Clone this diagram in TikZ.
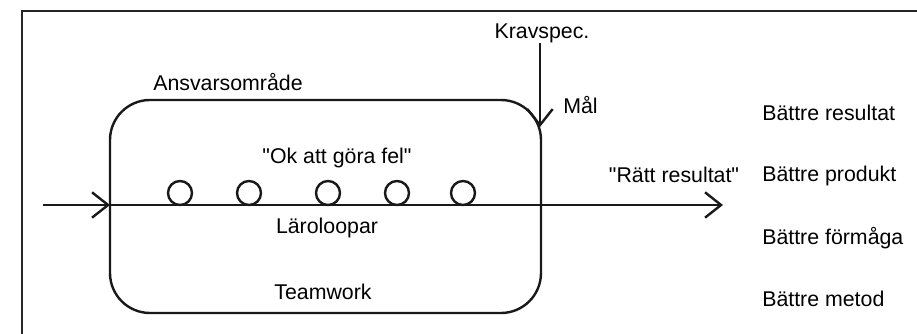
\documentclass[tikz,border=0pt]{standalone}
\usepackage{fontspec}
\setmainfont{Liberation Sans}
\usetikzlibrary{arrows.meta}
\begin{document}
\begin{tikzpicture}[x=0.75pt,y=-0.75pt,
  lbl/.style={inner sep=0pt,font=\fontsize{16}{19}\selectfont},
  shape line/.style={line width=1.8pt,draw=black!90},
  barb/.style={-{Straight Barb[length=12pt,width=19pt,line width=1.8pt]}}]
\useasboundingbox (0,0) rectangle (917,334);
% outer frame (cut off at right and bottom)
\draw[line width=1.3pt,draw=black!85] (22,340) -- (22,11) -- (925,11);
% area of responsibility
\draw[shape line,rounded corners=30pt] (110,100) rectangle (541,313);
% loops
\foreach \cx/\n in {180/a,249/b,328/c,397/d,463/e}
  \draw[shape line] (\cx,193) circle[radius=12];
% coordinates
\coordinate (start) at (43,205);
\coordinate (entry) at (110,205);
\coordinate (exit) at (723,205);
\coordinate (goal) at (540,127);
% main flow
\draw[shape line,barb] (start) -- (entry);
\draw[shape line,barb] (entry) -- (exit);
% texts
\node[lbl] (krav) at (542,33) {Kravspec.};
\node[lbl,anchor=west] (mal) at (563,105) {Mål};
\node[lbl] (ansvar) at (228,82) {Ansvarsområde};
\node[lbl] (ok) at (337,158) {\textquotedbl Ok att göra fel\textquotedbl};
\node[lbl] (laro) at (327,228) {Läroloopar};
\node[lbl] (team) at (323,292) {Teamwork};
\node[lbl] (ratt) at (674,175) {\textquotedbl Rätt resultat\textquotedbl};
\node[lbl,anchor=west] (b1) at (762,113) {Bättre resultat};
\node[lbl,anchor=west] (b2) at (762,176) {Bättre produkt};
\node[lbl,anchor=west] (b3) at (762,238) {Bättre förmåga};
\node[lbl,anchor=west] (b4) at (762,299) {Bättre metod};
% requirement arrow
\draw[shape line,barb] (krav.south -| goal) -- (goal);
\end{tikzpicture}
\end{document}
